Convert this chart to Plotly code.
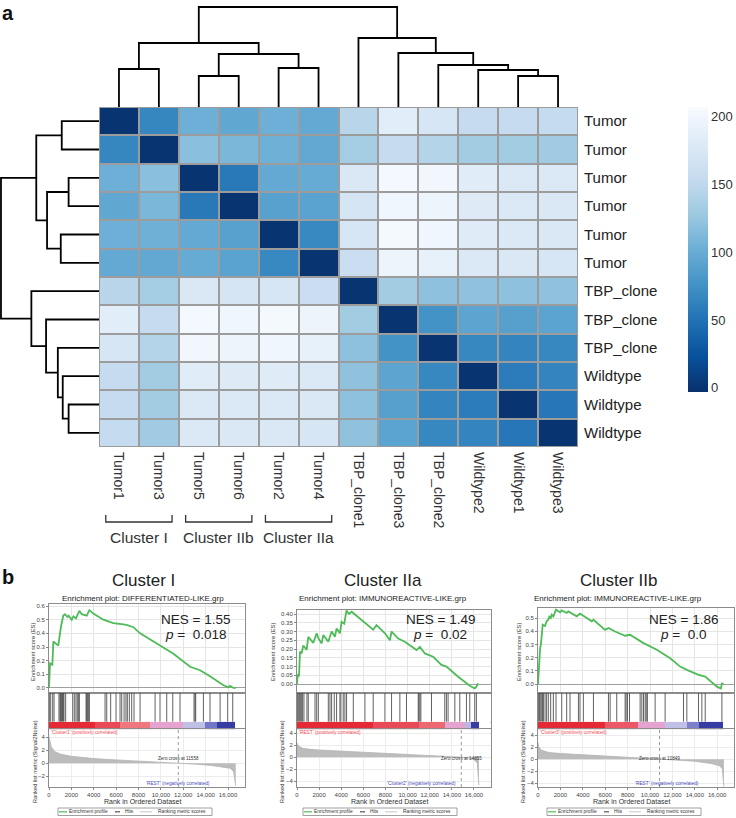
import plotly.graph_objects as go

W, H = 736, 818
FONT = "Liberation Sans, Arial, Helvetica, sans-serif"

# ---------------- panel a data ----------------
col_labels = ["Tumor1", "Tumor3", "Tumor5", "Tumor6", "Tumor2", "Tumor4",
              "TBP_clone1", "TBP_clone3", "TBP_clone2", "Wildtype2", "Wildtype1", "Wildtype3"]
row_labels = ["Tumor"] * 6 + ["TBP_clone"] * 3 + ["Wildtype"] * 3
dist = [
    [0, 66, 103, 95, 103, 97, 146, 184, 172, 155, 155, 154],
    [66, 0, 118, 110, 104, 96, 132, 155, 143, 131, 131, 130],
    [103, 118, 0, 56, 97, 99, 176, 203, 201, 183, 178, 178],
    [95, 110, 56, 0, 90, 91, 171, 199, 197, 181, 177, 176],
    [103, 104, 97, 90, 0, 68, 172, 204, 199, 182, 178, 176],
    [97, 96, 99, 91, 68, 0, 160, 196, 190, 178, 176, 173],
    [146, 132, 176, 171, 172, 160, 0, 131, 120, 121, 120, 121],
    [184, 155, 203, 199, 204, 196, 131, 0, 77, 93, 89, 92],
    [172, 143, 201, 197, 199, 190, 120, 77, 0, 67, 65, 67],
    [155, 131, 183, 181, 182, 178, 121, 93, 67, 0, 58, 65],
    [155, 131, 178, 177, 178, 176, 120, 89, 65, 58, 0, 54],
    [154, 130, 178, 176, 176, 173, 121, 92, 67, 65, 54, 0],
]
colorbar_ticks = [0, 50, 100, 150, 200]
# linkage: node 12+i joins merge_a[i] and merge_b[i] at height merge_h[i]
merge_a = [0, 2, 4, 13, 12, 10, 9, 8, 7, 6, 16]
merge_b = [1, 3, 5, 14, 15, 11, 17, 18, 19, 20, 21]
merge_h = [38, 31, 39, 53, 64, 31, 37, 42, 54, 69, 100]
cluster_names = ["Cluster I", "Cluster IIb", "Cluster IIa"]
cluster_cols = [(0, 1), (2, 3), (4, 5)]

# ---------------- panel b data ----------------
titles = ["Cluster I", "Cluster IIa", "Cluster IIb"]
gene_sets = ["DIFFERENTIATED-LIKE.grp", "IMMUNOREACTIVE-LIKE.grp", "IMMUNOREACTIVE-LIKE.grp"]
nes = ["1.55", "1.49", "1.86"]
pvals = ["0.018", "0.02", "0.0"]
pos_labels = ["'Cluster1'", "'REST'", "'Cluster3'"]
neg_labels = ["'REST'", "'Cluster2'", "'REST'"]
zero_cross = [11558, 14855, 10849]

es1_rank = [0, 90, 300, 390, 830, 980, 1070, 1280, 1430, 1640, 1750, 2030, 2180, 2410, 2530, 2710,
            2920, 3370, 3610, 3960, 4860, 5200, 5750, 6650, 7000, 7540, 8140, 9630, 11120, 12610,
            13500, 14390, 15590, 16030, 16180, 16480, 16690]
es1 = [0.0, 0.18, 0.17, 0.34, 0.31, 0.40, 0.45, 0.53, 0.54, 0.52, 0.53, 0.50, 0.525, 0.51, 0.53, 0.565,
       0.54, 0.53, 0.57, 0.545, 0.50, 0.49, 0.475, 0.465, 0.46, 0.445, 0.40, 0.325, 0.25, 0.155,
       0.13, 0.085, 0.02, 0.005, 0.015, 0.0, 0.0]
es2_rank = [0, 60, 180, 270, 420, 570, 870, 1020, 1470, 1780, 1930, 2230, 2380, 2830, 3130, 3430,
            3580, 3880, 4030, 4270, 4480, 4700, 4940, 6140, 6890, 7190, 7950, 8400, 8550, 9150,
            9750, 10810, 11110, 11560, 12310, 13060, 13510, 14570, 15620, 16070, 16220, 16370]
es2 = [0, 0.05, 0.045, 0.185, 0.175, 0.22, 0.195, 0.27, 0.235, 0.29, 0.262, 0.232, 0.28, 0.242, 0.30,
       0.27, 0.318, 0.29, 0.356, 0.345, 0.42, 0.40, 0.413, 0.347, 0.31, 0.337, 0.29, 0.25, 0.30, 0.26,
       0.242, 0.194, 0.213, 0.175, 0.156, 0.109, 0.10, 0.042, -0.01, -0.025, -0.015, 0.004]
es3_rank = [0, 90, 180, 270, 360, 420, 630, 770, 920, 1010, 1130, 1220, 1370, 1520, 1610, 1970,
            2120, 2560, 2710, 3460, 3750, 4050, 4800, 4950, 5990, 6290, 6880, 7780, 8220, 9420,
            10610, 11800, 12690, 13290, 14330, 14930, 15970, 16330, 16420, 16570]
es3 = [0, 0.145, 0.26, 0.31, 0.385, 0.45, 0.44, 0.475, 0.487, 0.51, 0.50, 0.525, 0.513, 0.538, 0.563,
       0.543, 0.558, 0.538, 0.55, 0.513, 0.533, 0.518, 0.475, 0.487, 0.41, 0.424, 0.398, 0.366, 0.373,
       0.31, 0.26, 0.195, 0.132, 0.107, 0.069, 0.056, -0.02, -0.033, 0.005, 0.0]

hits1 = [30, 150, 330, 450, 890, 980, 1040, 1100, 1160, 1220, 1280, 1340, 1490, 2120, 2260, 2410,
         2530, 2650, 2710, 3310, 3370, 3430, 3520, 3610, 5010, 5160, 5510, 5990, 6350, 6500, 6710,
         6880, 7000, 7180, 7390, 7600, 8140, 9480, 9920, 10520, 11060, 11710, 12960, 13050, 13110,
         13800, 14390, 15290, 15970, 16420]
hits2 = [30, 120, 240, 300, 420, 510, 630, 900, 1020, 1630, 1780, 1930, 2830, 2980, 3130, 3370,
         3580, 3880, 3970, 4180, 4330, 4480, 5090, 6140, 6890, 7950, 8550, 9300, 9900, 10960, 11020,
         11110, 11200, 12160, 13360, 13510, 13660, 14270, 14720, 15320, 15620, 16070, 16220]
hits3 = [30, 120, 180, 270, 360, 420, 480, 630, 770, 920, 1130, 1370, 1610, 2120, 2560, 2860, 3610,
         3750, 4050, 4950, 6290, 6440, 7030, 7780, 7870, 7990, 8170, 9120, 9270, 9420, 9570, 9660,
         9770, 10460, 11350, 12990, 13290, 14330, 14630, 14930, 16420]

strip1_edges = [0, 4100, 6350, 9030, 12000, 13950, 15000, 16630]
strip1_level = [0.0, 0.15, 0.3, 0.45, 0.6, 0.8, 0.95]
strip2_edges = [0, 6900, 11000, 13360, 15170, 15770, 16430]
strip2_level = [0.0, 0.15, 0.25, 0.45, 0.62, 0.95]
strip3_edges = [0, 6000, 8970, 11350, 13290, 14330, 16500]
strip3_level = [0.0, 0.2, 0.45, 0.6, 0.78, 0.95]

rk1_rank = [0, 60, 200, 500, 1000, 2000, 4000, 6000, 8000, 10000, 11558, 13000, 14500, 15500,
            16200, 16500, 16600, 16690]
rk1 = [4.1, 3.4, 2.5, 1.8, 1.4, 1.05, 0.7, 0.5, 0.33, 0.17, 0.0, -0.15, -0.35, -0.55, -0.8, -1.3,
       -2.5, -3.5]
rk2_rank = [0, 100, 500, 1000, 2000, 4000, 6000, 8000, 10000, 12000, 13500, 14855, 15500, 16000,
            16300, 16400, 16450]
rk2 = [2.4, 1.9, 1.5, 1.35, 1.2, 1.02, 0.82, 0.62, 0.44, 0.27, 0.13, 0.0, -0.15, -0.4, -1.0, -2.7,
       -4.7]
rk3_rank = [0, 60, 300, 1000, 2000, 4000, 6000, 8000, 10000, 10849, 12000, 14000, 15500, 16200,
            16450, 16550, 16600]
rk3 = [2.8, 2.1, 1.5, 1.1, 0.95, 0.7, 0.5, 0.3, 0.1, 0.0, -0.1, -0.35, -0.75, -1.1, -1.6, -3.0,
       -4.6]

rank_ticks = [0, 2000, 4000, 6000, 8000, 10000, 12000, 14000, 16000]
rank_tick_text = ["0", "2000", "4000", "6000", "8000", "10,000", "12,000", "14,000", "16,000"]

es_rank = [es1_rank, es2_rank, es3_rank]
es_vals = [es1, es2, es3]
hits = [hits1, hits2, hits3]
strip_edges = [strip1_edges, strip2_edges, strip3_edges]
strip_level = [strip1_level, strip2_level, strip3_level]
rk_rank = [rk1_rank, rk2_rank, rk3_rank]
rk_vals = [rk1, rk2, rk3]

# ---------------- styles / geometry ----------------
blues_r = [[0, "#08306b"], [0.125, "#08519c"], [0.25, "#2171b5"], [0.375, "#4292c6"],
           [0.5, "#6baed6"], [0.625, "#9ecae1"], [0.75, "#c6dbef"], [0.875, "#deebf7"], [1, "#f7fbff"]]
strip_scale = [[0, "#e42b35"], [0.15, "#e84a58"], [0.3, "#ef787f"], [0.45, "#e6a3cf"],
               [0.6, "#c0bfe6"], [0.75, "#8a8fd2"], [0.9, "#4448b0"], [1, "#2a2f9a"]]
gsea_left = [49, 297, 538]
gsea_scale = [11.19, 11.06, 11.2]
es_top = [604, 610, 608]
es_range = [[-0.037, 0.615], [-0.051, 0.423], [-0.068, 0.576]]
es_ticks = [[0, 0.1, 0.2, 0.3, 0.4, 0.5, 0.6],
            [0, 0.05, 0.1, 0.15, 0.2, 0.25, 0.3, 0.35, 0.4],
            [0, 0.1, 0.2, 0.3, 0.4, 0.5]]
es_fmt = [".1f", ".2f", ".1f"]
rk_range = [[-3.69, 5.23], [-5.0, 4.67], [-4.67, 5.0]]
rk_ticks = [[-2, 0, 2, 4], [-4, -2, 0, 2, 4], [-4, -2, 0, 2, 4]]
title_x = [143, 383, 618]
nes_x = [195, 440, 683]
es_title_x = [33, 273, 519]
rk_title_x = [35, 282, 523]
legend_left = [58, 303, 547]


def fx(p):
    return p / W


def fy(p):
    return 1 - p / H


def axn(n, d):
    return f"{d}axis" if n == 1 else f"{d}axis{n}"


def ref(n, d):
    return d if n == 1 else f"{d}{n}"


fig = go.Figure()
layout = dict(width=W, height=H, margin=dict(l=0, r=0, t=0, b=0), template="none",
              paper_bgcolor="white", plot_bgcolor="white", showlegend=False,
              font=dict(family=FONT, color="#222"))
annotations = []
shapes = []


def note(x, y, text, size, **kw):
    d = dict(x=x, y=y, text=text, showarrow=False,
             font=dict(size=size, family=FONT, color=kw.pop("color", "#222")),
             xref=kw.pop("xref", "paper"), yref=kw.pop("yref", "paper"),
             xanchor=kw.pop("xanchor", "center"), yanchor=kw.pop("yanchor", "middle"),
             borderpad=0)
    d.update(kw)
    annotations.append(d)


# ---------------- heatmap ----------------
fig.add_trace(go.Heatmap(
    z=dist, x=list(range(12)), y=list(range(12)), colorscale=blues_r, zmin=-3, zmax=207,
    xgap=2, ygap=2, hoverinfo="skip",
    colorbar=dict(x=fx(688), xanchor="left", y=fy(107), yanchor="top", len=285 / H,
                  lenmode="fraction", thickness=20, outlinewidth=0, ticks="",
                  tickvals=colorbar_ticks, tickfont=dict(size=13, color="#333"), xpad=0, ypad=0)))
layout["xaxis"] = dict(domain=[fx(99), fx(578)], range=[-0.5, 11.5], tickvals=list(range(12)),
                       ticktext=col_labels, tickangle=90, ticks="", showgrid=False, zeroline=False,
                       showline=False, tickfont=dict(size=14, color="#333"), anchor="y",
                       ticklabelstandoff=4)
layout["yaxis"] = dict(domain=[fy(447), fy(107)], range=[11.5, -0.5], tickvals=list(range(12)),
                       ticktext=row_labels, side="right", ticks="", showgrid=False, zeroline=False,
                       showline=False, tickfont=dict(size=15, color="#222"), anchor="x",
                       ticklabelstandoff=5)
shapes.append(dict(type="rect", xref="x", yref="y", x0=-0.5, x1=11.5, y0=-0.5, y1=11.5,
                   fillcolor="#9c9c9c", line=dict(color="#9c9c9c", width=2), layer="below"))

# ---------------- dendrograms ----------------
pos = {i: float(i) for i in range(12)}
hgt = {i: 0.0 for i in range(12)}
seg_p, seg_h = [], []
for k, (a, b, h) in enumerate(zip(merge_a, merge_b, merge_h)):
    seg_p += [pos[a], pos[a], pos[b], pos[b], None]
    seg_h += [hgt[a], h, h, hgt[b], None]
    pos[12 + k] = (pos[a] + pos[b]) / 2
    hgt[12 + k] = h

dline = dict(color="black", width=1.8)
fig.add_trace(go.Scatter(x=seg_p, y=seg_h, mode="lines", line=dline, xaxis="x2", yaxis="y2",
                         hoverinfo="skip"))
fig.add_trace(go.Scatter(x=seg_h, y=seg_p, mode="lines", line=dline, xaxis="x3", yaxis="y3",
                         hoverinfo="skip"))
layout["xaxis2"] = dict(domain=[fx(99), fx(578)], range=[-0.5, 11.5], visible=False, anchor="y2")
layout["yaxis2"] = dict(domain=[fy(107), fy(4)], range=[0, 103], visible=False, anchor="x2")
layout["xaxis3"] = dict(domain=[0, fx(99)], range=[101, 0], visible=False, anchor="y3")
layout["yaxis3"] = dict(domain=[fy(447), fy(107)], range=[11.5, -0.5], visible=False, anchor="x3")

# cluster brackets
for name, (c0, c1) in zip(cluster_names, cluster_cols):
    xa, xb = c0 - 0.33, c1 + 0.33
    shapes.append(dict(type="path", xref="x", yref="paper",
                       path=f"M {xa},{fy(515)} L {xa},{fy(522)} L {xb},{fy(522)} L {xb},{fy(515)}",
                       line=dict(color="#333", width=1.3)))
    note((c0 + c1) / 2, fy(537), name, 15.5, xref="x", color="#333")

note(fx(1), fy(1), "<b>a</b>", 20, xanchor="left", yanchor="top", color="#111")
note(fx(1), fy(565), "<b>b</b>", 20, xanchor="left", yanchor="top", color="#111")

# ---------------- GSEA panels ----------------
frame = dict(showline=True, linecolor="#8c8c8c", linewidth=1, mirror=True)
for k in range(3):
    n_es, n_hit, n_st, n_rk = 4 + 4 * k, 5 + 4 * k, 6 + 4 * k, 7 + 4 * k
    x0 = gsea_left[k]
    x1 = x0 + 17.5 * gsea_scale[k]
    xd = [fx(x0), fx(x1)]

    # enrichment score
    fig.add_trace(go.Scatter(x=es_rank[k], y=es_vals[k], mode="lines",
                             line=dict(color="#4dbb57", width=1.8),
                             xaxis=ref(n_es, "x"), yaxis=ref(n_es, "y"), hoverinfo="skip"))
    layout[axn(n_es, "x")] = dict(domain=xd, range=[0, 17500], anchor=ref(n_es, "y"),
                                  showticklabels=False, ticks="", tickvals=rank_ticks,
                                  showgrid=True, gridcolor="#e6e6e6", zeroline=False, **frame)
    layout[axn(n_es, "y")] = dict(domain=[fy(693), fy(es_top[k])], range=es_range[k],
                                  anchor=ref(n_es, "x"), tickvals=es_ticks[k], tickformat=es_fmt[k],
                                  tickfont=dict(size=6, color="#444"), ticks="outside", ticklen=2,
                                  tickcolor="#888", showgrid=True, gridcolor="#e6e6e6",
                                  zeroline=True, zerolinecolor="#a0a0a0", zerolinewidth=1, **frame)

    # hits
    hx, hy = [], []
    for r in hits[k]:
        hx += [r, r, None]
        hy += [0, 1, None]
    fig.add_trace(go.Scatter(x=hx, y=hy, mode="lines", line=dict(color="rgba(70,70,70,0.85)", width=1),
                             xaxis=ref(n_hit, "x"), yaxis=ref(n_hit, "y"), hoverinfo="skip"))
    layout[axn(n_hit, "x")] = dict(domain=xd, range=[0, 17500], anchor=ref(n_hit, "y"),
                                   showticklabels=False, ticks="", showgrid=False, zeroline=False, **frame)
    layout[axn(n_hit, "y")] = dict(domain=[fy(722), fy(693)], range=[0, 1], anchor=ref(n_hit, "x"),
                                   showticklabels=False, ticks="", showgrid=False, zeroline=False, **frame)

    # colour strip
    fig.add_trace(go.Heatmap(z=[strip_level[k]], x=strip_edges[k], y=[0, 1], colorscale=strip_scale,
                             zmin=0, zmax=1, showscale=False, hoverinfo="skip",
                             xaxis=ref(n_st, "x"), yaxis=ref(n_st, "y")))
    layout[axn(n_st, "x")] = dict(domain=xd, range=[0, 17500], anchor=ref(n_st, "y"), visible=False)
    layout[axn(n_st, "y")] = dict(domain=[fy(729.3), fy(721.7)], range=[0, 1], anchor=ref(n_st, "x"),
                                  showticklabels=False, ticks="", showgrid=False, zeroline=False, **frame)

    # ranked list metric
    fig.add_trace(go.Scatter(x=rk_rank[k], y=rk_vals[k], mode="lines", fill="tozeroy",
                             line=dict(color="#b3b3b3", width=0.8), fillcolor="#bcbcbc",
                             xaxis=ref(n_rk, "x"), yaxis=ref(n_rk, "y"), hoverinfo="skip"))
    layout[axn(n_rk, "x")] = dict(domain=xd, range=[0, 17500], anchor=ref(n_rk, "y"),
                                  tickvals=rank_ticks, ticktext=rank_tick_text, tickangle=0,
                                  tickfont=dict(size=6, color="#444"), ticks="outside", ticklen=2,
                                  tickcolor="#888", showgrid=True, gridcolor="#ececec",
                                  zeroline=False, ticklabelstandoff=0, **frame)
    layout[axn(n_rk, "y")] = dict(domain=[fy(787), fy(729.3)], range=rk_range[k],
                                  anchor=ref(n_rk, "x"), tickvals=rk_ticks[k],
                                  tickfont=dict(size=6, color="#444"), ticks="outside", ticklen=2,
                                  tickcolor="#888", showgrid=True, gridcolor="#ececec",
                                  zeroline=False, **frame)
    shapes.append(dict(type="line", xref=ref(n_rk, "x"), yref=ref(n_rk, "y") + " domain",
                       x0=zero_cross[k], x1=zero_cross[k], y0=0, y1=1,
                       line=dict(color="#9a9a9a", width=1, dash="dot")))

    # texts
    note(fx(title_x[k]), fy(580), titles[k], 17, color="#222")
    note(fx(title_x[k]), fy(598), "Enrichment plot: " + gene_sets[k], 8, color="#222")
    note(fx(nes_x[k]), fy(619), "NES = " + nes[k], 13.5, color="#222")
    note(fx(nes_x[k]), fy(634.5), "<i>p</i> =  " + pvals[k], 13.5, color="#222")
    note(fx(es_title_x[k]), fy(652), "Enrichment score (ES)", 5.8, textangle=-90, color="#333")
    note(fx(rk_title_x[k]), fy(762), "Ranked list metric (Signal2Noise)", 5.6, textangle=-90, color="#333")
    note(fx(x0 + 8.35 * gsea_scale[k]), fy(801.5), "Rank in Ordered Dataset", 7, color="#333")
    note(100, fy(732.5), pos_labels[k] + " (positively correlated)", 4.8, xref=ref(n_rk, "x"),
         xanchor="left", color="#f0505c")
    note(zero_cross[k], fy(758), "Zero cross at " + str(zero_cross[k]), 4.6, xref=ref(n_rk, "x"),
         color="#333")
    note(14500, fy(783), neg_labels[k] + " (negatively correlated)", 4.8, xref=ref(n_rk, "x"),
         xanchor="right", color="#4a4ab8")

    # legend box
    lx = legend_left[k]
    shapes.append(dict(type="rect", xref="paper", yref="paper", x0=fx(lx), x1=fx(lx + 154),
                       y0=fy(815.5), y1=fy(808), line=dict(color="#888", width=0.8)))
    for (a, b), col in zip([(1, 9), (57, 62), (82, 94)], ["#4dbb57", "#555555", "#d0d0d0"]):
        shapes.append(dict(type="line", xref="paper", yref="paper", x0=fx(lx + a), x1=fx(lx + b),
                           y0=fy(811.8), y1=fy(811.8), line=dict(color=col, width=1.2)))
    for off, txt in zip([10, 66, 99], ["Enrichment profile", "Hits", "Ranking metric scores"]):
        note(fx(lx + off), fy(811.8), txt, 4.8, xanchor="left", color="#333")

layout["annotations"] = annotations
layout["shapes"] = shapes
fig.update_layout(**layout)
# the page body has a default 8px margin; remove it so the figure sits at the window origin
fig.write_html("out.html", config={"displayModeBar": False},
               post_script="document.body.style.margin='0';")
